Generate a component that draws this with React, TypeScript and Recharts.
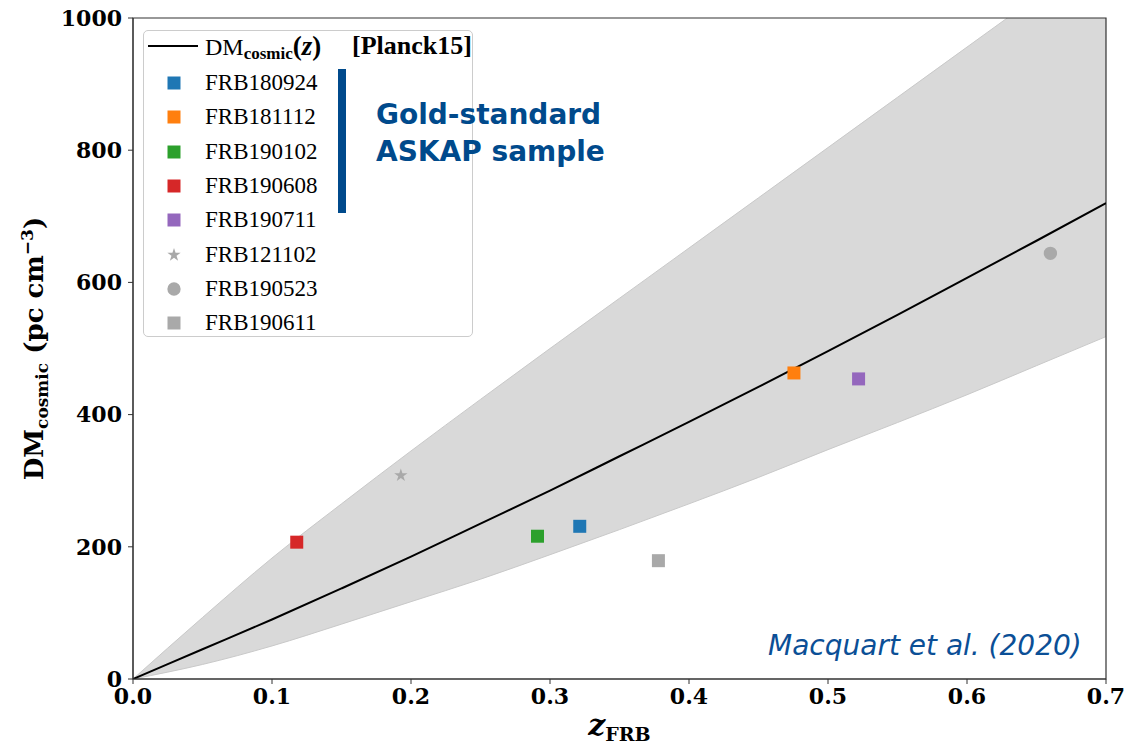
import { ComposedChart, Area, Line, Scatter, XAxis, YAxis, ReferenceArea, Symbols, Label } from "recharts";

// Macquart relation, mean + band
const zGrid = [0, 0.05, 0.1, 0.15, 0.2, 0.25, 0.3, 0.35, 0.4, 0.45, 0.5, 0.55, 0.6, 0.65, 0.7];
const meanDM = [0, 45, 90, 137, 185, 235, 285, 337, 389, 442, 496, 551, 607, 663, 720];
const lowerDM = [0, 22, 50, 83, 117, 151, 188, 226, 265, 305, 347, 388, 430, 474, 518];
const upperDM = [0, 93, 183, 265, 345, 423, 500, 576, 652, 728, 804, 880, 956, 1032, 1108];

// localised FRBs
const frbNames = ["FRB180924", "FRB181112", "FRB190102", "FRB190608", "FRB190711", "FRB121102", "FRB190523", "FRB190611"];
const frbZ = [0.3214, 0.4755, 0.291, 0.1178, 0.522, 0.1927, 0.66, 0.378];
const frbDM = [231, 463, 216, 207, 454, 308, 644, 179];
const frbColors = ["#1f77b4", "#ff7f0e", "#2ca02c", "#d62728", "#9467bd", "#a9a9a9", "#a9a9a9", "#a9a9a9"];
const frbShapes = ["square", "square", "square", "square", "square", "star", "circle", "square"];

const xTicks = [0, 0.1, 0.2, 0.3, 0.4, 0.5, 0.6, 0.7];
const yTicks = [0, 200, 400, 600, 800, 1000];

const markerSize: Record<string, number> = { square: 169, circle: 139, star: 55 };

const bandRows = zGrid.map((z, i) => ({ z, mean: meanDM[i], band: [lowerDM[i], upperDM[i]] }));

const serif = "'DejaVu Serif', serif";
const tickStyle = { fill: "#000", fontSize: 22, fontWeight: 700, fontFamily: serif };

function XLabel({ viewBox }: any) {
  const cx = viewBox.x + viewBox.width / 2;
  return (
    <text x={cx} y={viewBox.y + 56} textAnchor="middle" fontFamily={serif} fontWeight={700} fill="#000">
      <tspan fontSize={30} fontStyle="italic">z</tspan>
      <tspan fontSize={19} dy={6}>FRB</tspan>
    </text>
  );
}

function YLabel({ viewBox }: any) {
  const cy = viewBox.y + viewBox.height / 2;
  const bx = 43;
  return (
    <text x={bx} y={cy} transform={`rotate(-90, ${bx}, ${cy})`} textAnchor="middle" fontFamily={serif} fontWeight={700} fill="#000" fontSize={26}>
      <tspan>DM</tspan>
      <tspan fontSize={17} dy={5}>cosmic</tspan>
      <tspan dy={-5}> (pc cm</tspan>
      <tspan fontSize={17} dy={-10}>−3</tspan>
      <tspan dy={10}>)</tspan>
    </text>
  );
}

function LegendBox() {
  const rowTop = 82;
  const step = 34.3;
  return (
    <div style={{ position: "absolute", left: 143, top: 30, width: 330, height: 307, border: "1px solid #cccccc", borderRadius: 5, background: "rgba(255,255,255,0.85)", boxSizing: "border-box" }}>
      <div style={{ position: "absolute", left: 4, top: 14, width: 50, height: 2, background: "#000" }} />
      <div style={{ position: "absolute", left: 61, top: 0, whiteSpace: "nowrap", fontFamily: "'Liberation Serif', serif", fontSize: 24, lineHeight: "30px", color: "#000" }}>
        DM<sub style={{ fontWeight: 700, fontSize: 17, verticalAlign: "-4px" }}>cosmic</sub>
        <b style={{ fontSize: 27 }}>(<i>z</i>)</b>
      </div>
      <div style={{ position: "absolute", left: 208, top: 0, whiteSpace: "nowrap", fontFamily: "'Liberation Serif', serif", fontWeight: 700, fontSize: 26, lineHeight: "30px", color: "#000" }}>
        [Planck15]
      </div>
      {frbNames.map((name, i) => {
        const cy = rowTop + i * step - 30;
        return (
          <div key={name}>
            <svg style={{ position: "absolute", left: 20, top: cy - 10 }} width={20} height={20}>
              <Symbols cx={10} cy={10} type={frbShapes[i] as any} size={markerSize[frbShapes[i]]} fill={frbColors[i]} />
            </svg>
            <div style={{ position: "absolute", left: 61, top: cy - 15, whiteSpace: "nowrap", fontFamily: "'Liberation Serif', serif", fontSize: 23, lineHeight: "30px", color: "#000" }}>
              {name}
            </div>
          </div>
        );
      })}
    </div>
  );
}

export default function App() {
  return (
    <div style={{ position: "absolute", left: 0, top: 0, width: 1138, height: 744, background: "#fff" }}>
      <ComposedChart width={1138} height={744} data={bandRows} margin={{ top: 18, right: 32, bottom: 0, left: 0 }}>
        <XAxis
          dataKey="z"
          type="number"
          domain={[0, 0.7]}
          ticks={xTicks}
          allowDataOverflow
          height={65}
          tick={tickStyle}
          tickFormatter={(v) => v.toFixed(1)}
          tickSize={5}
          tickMargin={4}
          stroke="#333"
        >
          <Label content={XLabel} />
        </XAxis>
        <YAxis
          type="number"
          domain={[0, 1000]}
          ticks={yTicks}
          allowDataOverflow
          width={133}
          tick={tickStyle}
          tickSize={5}
          tickMargin={6}
          stroke="#333"
        >
          <Label content={YLabel} />
        </YAxis>
        <Area dataKey="band" type="monotone" fill="#d9d9d9" fillOpacity={1} stroke="#c9c9c9" strokeWidth={1} isAnimationActive={false} />
        <Line dataKey="mean" type="monotone" stroke="#000" strokeWidth={2} dot={false} isAnimationActive={false} />
        {frbNames.map((name, i) => (
          <Scatter
            key={name}
            name={name}
            data={[{ z: frbZ[i], dm: frbDM[i] }]}
            dataKey="dm"
            fill={frbColors[i]}
            isAnimationActive={false}
            shape={(p: any) => <Symbols cx={p.cx} cy={p.cy} type={frbShapes[i] as any} size={markerSize[frbShapes[i]]} fill={frbColors[i]} />}
          />
        ))}
        <ReferenceArea x1={0} x2={0.7} y1={0} y2={1000} fill="none" stroke="#333" strokeWidth={1.2} />
      </ComposedChart>
      <LegendBox />
      <div style={{ position: "absolute", left: 338, top: 69, width: 8, height: 144, background: "#004a8c" }} />
      <div style={{ position: "absolute", left: 376, top: 96, fontFamily: "'DejaVu Sans', sans-serif", fontWeight: 700, fontSize: 28, lineHeight: "37px", color: "#004a8c", whiteSpace: "nowrap" }}>
        Gold-standard
        <br />
        ASKAP sample
      </div>
      <div style={{ position: "absolute", left: 768, top: 626, fontFamily: "'DejaVu Sans', sans-serif", fontStyle: "italic", fontSize: 28, lineHeight: "40px", color: "#0b4f96", whiteSpace: "nowrap" }}>
        Macquart et al. (2020)
      </div>
    </div>
  );
}
